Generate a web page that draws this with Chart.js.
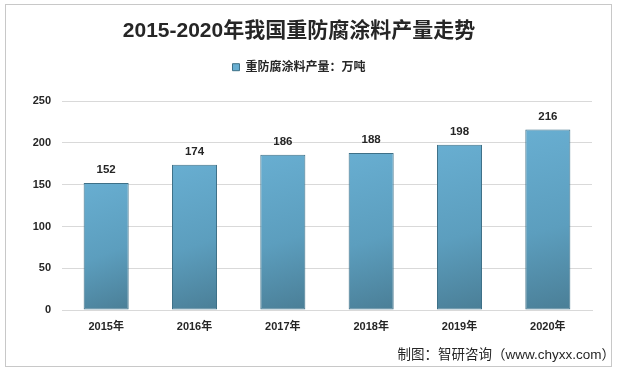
<!DOCTYPE html>
<html>
<head>
<meta charset="utf-8">
<script src="https://cdn.jsdelivr.net/npm/chart.js@4"></script>
<style>
html,body{margin:0;padding:0;background:#fff;}
#wrap{width:619px;height:375px;position:relative;}
</style>
</head>
<body>
<div id="wrap"><canvas id="c" width="619" height="375"></canvas></div>
<script>
const categories = ['2015年','2016年','2017年','2018年','2019年','2020年'];
const production = [152, 174, 186, 188, 198, 216];
const seriesName = '重防腐涂料产量：万吨';
const chartTitle = '2015-2020年我国重防腐涂料产量走势';
const footerText = '制图：智研咨询（www.chyxx.com）';
const yTicks = [0, 50, 100, 150, 200, 250];

const FONT = "'Liberation Sans', 'Noto Sans CJK SC', sans-serif";

function barFill(ctx) {
  const chart = ctx.chart;
  const area = chart.chartArea;
  if (!area || ctx.raw === undefined) return '#5c9dbd';
  const xs = chart.scales.x, ys = chart.scales.y;
  const cx = xs.getPixelForValue(ctx.dataIndex);
  const half = 24;
  const top = ys.getPixelForValue(ctx.raw);
  const g = chart.ctx.createLinearGradient(cx - half, top, cx + half, area.bottom);
  g.addColorStop(0, '#68AED1');
  g.addColorStop(0.55, '#5C9EBE');
  g.addColorStop(1, '#4A7E96');
  return g;
}

const decor = {
  id: 'decor',
  afterDatasetsDraw(chart) {
    const c = chart.ctx;
    const meta = chart.getDatasetMeta(0);
    c.save();
    c.font = 'bold 11.5px ' + FONT;
    c.fillStyle = '#262626';
    c.textAlign = 'center';
    c.textBaseline = 'bottom';
    meta.data.forEach((bar, i) => {
      c.fillText(String(production[i]), bar.x, bar.y - 7);
    });
    c.restore();
  },
  afterDraw(chart) {
    const c = chart.ctx;
    c.save();
    c.strokeStyle = '#c8c8c8';
    c.lineWidth = 1;
    c.strokeRect(5.5, 4.5, 606, 362);
    c.font = '13.5px ' + FONT;
    c.fillStyle = '#262626';
    c.textAlign = 'right';
    c.textBaseline = 'middle';
    c.fillText(footerText, 615, 355);
    c.restore();
  }
};

new Chart(document.getElementById('c'), {
  type: 'bar',
  data: {
    labels: categories,
    datasets: [{
      label: seriesName,
      data: production,
      backgroundColor: barFill,
      borderColor: '#3E7087',
      borderWidth: 1,
      borderSkipped: false,
      barPercentage: 0.51,
      categoryPercentage: 1
    }]
  },
  options: {
    responsive: false,
    animation: false,
    layout: { padding: { top: 5, left: 6, right: 27, bottom: 0 } },
    plugins: {
      title: {
        display: true,
        text: chartTitle,
        color: '#262626',
        font: { family: FONT, size: 21, weight: 'bold', lineHeight: 1.2 },
        padding: { top: 14, bottom: 0 }
      },
      subtitle: {
        display: true,
        text: ' ',
        weight: 500,
        font: { size: 18, lineHeight: 1 },
        padding: 0
      },
      legend: {
        display: true,
        position: 'top',
        labels: {
          color: '#262626',
          font: { family: FONT, size: 12, weight: 'bold' },
          boxWidth: 7,
          boxHeight: 7,
          padding: 17
        }
      },
      tooltip: { enabled: false }
    },
    scales: {
      x: {
        grid: { display: false, drawTicks: false },
        border: { display: true, color: '#d9d9d9' },
        ticks: { color: '#262626', font: { family: FONT, size: 11, weight: 'bold' }, padding: 10, maxRotation: 0 },
        afterFit(s) { s.height = 65; }
      },
      y: {
        min: 0, max: 250,
        afterBuildTicks(s) { s.ticks = yTicks.map(v => ({ value: v })); },
        grid: { color: '#d9d9d9', drawTicks: false },
        border: { display: false },
        ticks: { color: '#262626', font: { family: FONT, size: 11, weight: 'bold' }, padding: 11 },
        afterFit(s) { s.width = 56; }
      }
    }
  },
  plugins: [decor]
});
</script>
</body>
</html>
